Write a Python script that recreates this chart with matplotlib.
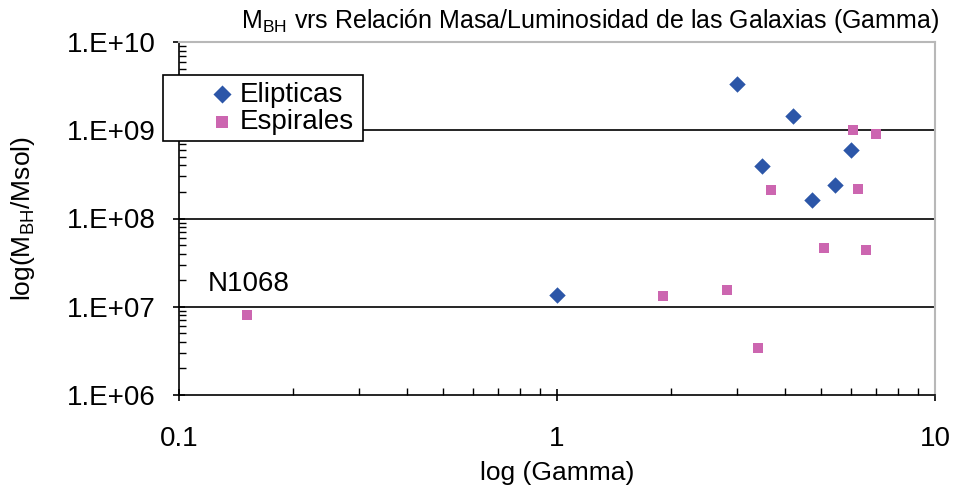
import numpy as np
import matplotlib.pyplot as plt
from matplotlib.patches import Rectangle
from matplotlib.ticker import LogLocator, FixedLocator, NullFormatter

# Elipticas (blue diamonds)
eli_gamma = [1.0, 3.0, 3.49, 4.22, 4.73, 5.45, 6.0]
eli_mbh = [1.37e7, 3.3e9, 3.9e8, 1.44e9, 1.64e8, 2.37e8, 5.9e8]

# Espirales (pink squares)
esp_gamma = [0.151, 1.91, 2.81, 3.40, 3.69, 5.09, 6.07, 6.26, 6.58, 6.98]
esp_mbh = [8.1e6, 1.33e7, 1.56e7, 3.4e6, 2.1e8, 4.6e7, 1.0e9, 2.14e8, 4.4e7, 9.0e8]

y_ticks = [1e6, 1e7, 1e8, 1e9, 1e10]
y_labels = ["1.E+06", "1.E+07", "1.E+08", "1.E+09", "1.E+10"]
x_ticks = [0.1, 1, 10]
x_labels = ["0.1", "1", "10"]

plt.rcParams['font.family'] = ['Liberation Sans', 'DejaVu Sans']

fig = plt.figure(figsize=(9.54, 4.87), dpi=100)
ax = fig.add_axes([179 / 954, 1 - 395 / 487, (935 - 179) / 954, (395 - 42) / 487])

ax.set_xscale("log")
ax.set_yscale("log")
ax.set_xlim(0.1, 10)
ax.set_ylim(1e6, 1e10)

for y in y_ticks[1:-1]:
    ax.axhline(y, color="black", lw=1.2, zorder=1)

ax.scatter(eli_gamma, eli_mbh, marker="D", s=70, color="#2c56a8", zorder=3,
           label="Elipticas", linewidths=0)
ax.scatter(esp_gamma, esp_mbh, marker="s", s=60, color="#cc66b0", zorder=3,
           label="Espirales", linewidths=0)

ax.xaxis.set_major_locator(FixedLocator(x_ticks))
ax.set_xticklabels(x_labels)
ax.xaxis.set_minor_locator(LogLocator(base=10, subs=np.arange(2, 10)))
ax.xaxis.set_minor_formatter(NullFormatter())
ax.yaxis.set_major_locator(FixedLocator(y_ticks))
ax.set_yticklabels(y_labels)
ax.yaxis.set_minor_locator(LogLocator(base=10, subs=np.arange(2, 10)))
ax.yaxis.set_minor_formatter(NullFormatter())

ax.tick_params(axis="both", which="major", direction="inout", length=9, width=1.2,
               labelsize=20, color="black")
ax.tick_params(axis="both", which="minor", direction="in", length=5, width=1, color="black")
ax.tick_params(axis="x", which="major", pad=18)
ax.tick_params(axis="y", which="major", pad=12)

for side in ("left", "bottom"):
    ax.spines[side].set_linewidth(1.2)
    ax.spines[side].set_color("black")
for side in ("top", "right"):
    ax.spines[side].set_linewidth(1.5)
    ax.spines[side].set_color("#b8b8b8")

ax.set_xlabel("log (Gamma)", fontsize=19, labelpad=6)
ax.set_ylabel(r"log(M$_{\mathregular{BH}}$/Msol)", fontsize=19, labelpad=22)
fig.text(590 / 954, 1 - 21 / 487,
         r"M$_{\mathregular{BH}}$ vrs Relación Masa/Luminosidad de las Galaxias (Gamma)",
         fontsize=18, ha="center", va="center")

ax.text(0.119, 1.5e7, "N1068", fontsize=20)

# legend box drawn separately: the marker sits well inside the frame
box = Rectangle((-0.0212, 0.7195), 0.2646, 0.187, transform=ax.transAxes,
                facecolor="white", edgecolor="black", lw=1.2, clip_on=False, zorder=4)
ax.add_patch(box)
leg = ax.legend(loc="upper left", bbox_to_anchor=(0.0423, 0.888), fontsize=20,
                frameon=False, handletextpad=0.25, handlelength=0.8,
                borderpad=0, labelspacing=0.05, borderaxespad=0, markerscale=1.1)
leg.set_zorder(5)

fig.savefig("out.png", dpi=100)
